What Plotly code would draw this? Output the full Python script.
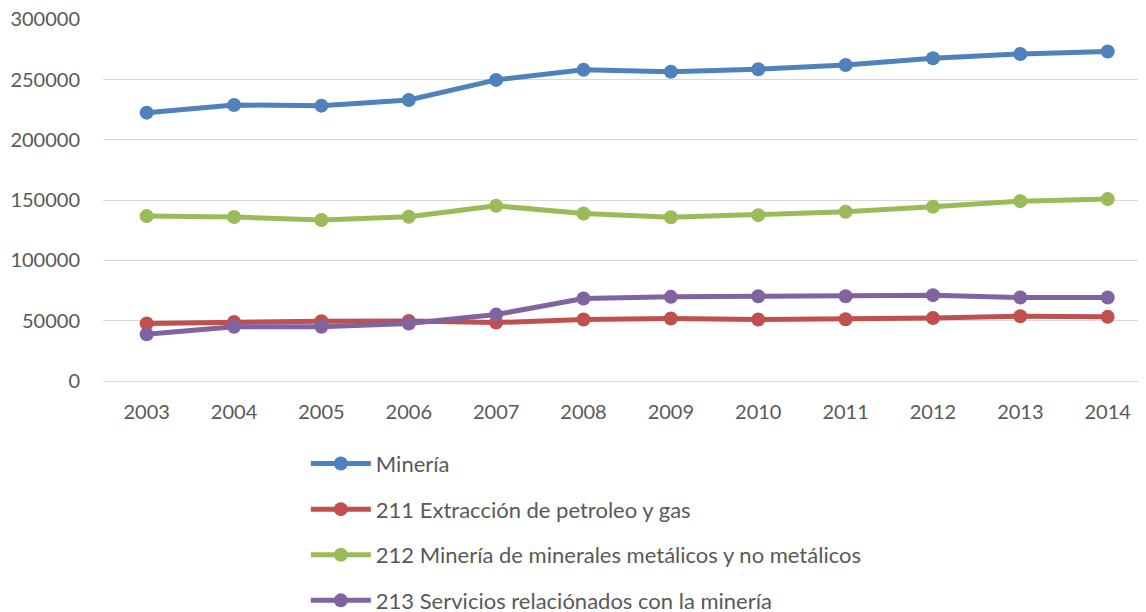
import plotly.graph_objects as go

years = ["2003", "2004", "2005", "2006", "2007", "2008", "2009", "2010", "2011", "2012", "2013", "2014"]
mineria = [222600, 229000, 228400, 233100, 249800, 258100, 256600, 258600, 262200, 267800, 271300, 273300]
extraccion_211 = [47700, 49000, 49600, 49800, 48500, 51000, 51800, 51000, 51200, 52300, 53700, 53200]
metalicos_212 = [136800, 136000, 133500, 136200, 145300, 139000, 135800, 137600, 140400, 144500, 149200, 150900]
servicios_213 = [38800, 44900, 44900, 47700, 55100, 68400, 69800, 70300, 70300, 71200, 69300, 69300]

names = ["Minería", "211 Extracción de petroleo y gas",
         "212 Minería de minerales metálicos y no metálicos",
         "213 Servicios relaciónados con la minería"]
colors = ["#4F81BD", "#C0504D", "#9BBB59", "#8064A2"]
series = [mineria, extraccion_211, metalicos_212, servicios_213]

FONT = "Lato"
TXT = "#595959"

fig = go.Figure()
for i, (n, c, s) in enumerate(zip(names, colors, series)):
    fig.add_trace(go.Scatter(
        x=list(range(len(years))), y=s, name=n, mode="lines+markers",
        line=dict(color=c, width=5),
        marker=dict(color=c, size=14),
        legendgroup=f"g{i}",
    ))

fig.update_layout(
    width=1146, height=612,
    paper_bgcolor="white", plot_bgcolor="white",
    margin=dict(l=95, r=0, t=11, b=239, autoexpand=False),
    font=dict(family=FONT, size=20, color=TXT),
    xaxis=dict(
        range=[-0.5, 11.53],
        tickmode="array", tickvals=list(range(len(years))), ticktext=years,
        showgrid=False, zeroline=False, showline=False,
        ticks="", ticklabelstandoff=17,
        tickfont=dict(family=FONT, size=20, color=TXT),
    ),
    yaxis=dict(
        range=[0, 300300], tickmode="array",
        tickvals=[0, 50000, 100000, 150000, 200000, 250000, 300000],
        ticktext=["0", "50000", "100000", "150000", "200000", "250000", "300000"],
        showgrid=True, gridcolor="#D9D9D9", gridwidth=1,
        zeroline=True, zerolinecolor="#D9D9D9", zerolinewidth=1,
        showline=False, ticks="", ticklabelstandoff=22,
        ticklabeloverflow="allow",
        tickfont=dict(family=FONT, size=20, color=TXT),
    ),
    showlegend=True,
    legend=dict(
        orientation="v", x=0.193, y=-0.1706, xanchor="left", yanchor="top",
        traceorder="grouped", tracegroupgap=14,
        font=dict(family=FONT, size=22, color=TXT),
        itemwidth=60,
        bgcolor="rgba(0,0,0,0)",
    ),
)

fig.write_html("out.html")
